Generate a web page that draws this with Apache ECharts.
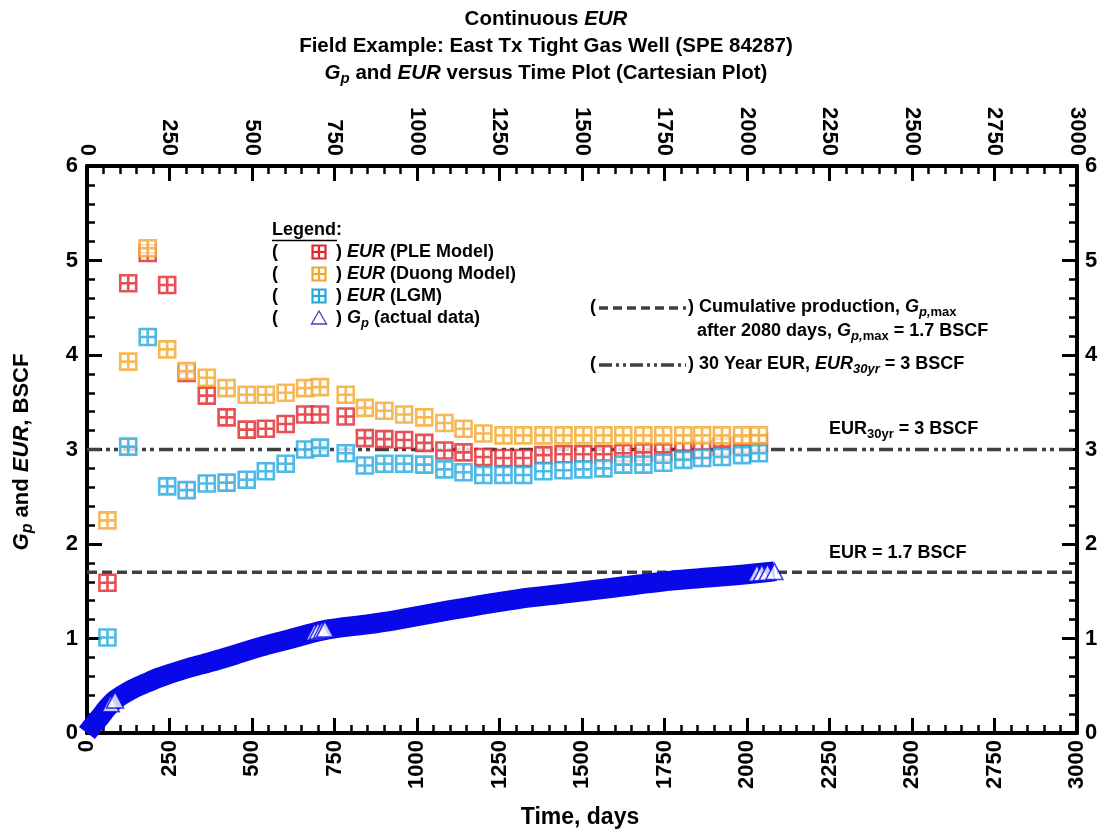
<!DOCTYPE html>
<html>
<head>
<meta charset="utf-8">
<script src="https://cdn.jsdelivr.net/npm/echarts@6/dist/echarts.min.js"></script>
<style>
html,body{margin:0;padding:0;background:#fff;}
#chart{width:1101px;height:834px;}
</style>
</head>
<body>
<div id="chart"></div>
<script>
// ---- data ----
const evalDays = [62, 125, 184, 243, 302, 363, 423, 484, 542, 602, 661, 706, 784, 842, 901, 961, 1022, 1083, 1141, 1201, 1262, 1322, 1383, 1444, 1504, 1565, 1625, 1686, 1746, 1807, 1864, 1924, 1985, 2036];
const eurPLE = [1.59, 4.76, 5.08, 4.74, 3.81, 3.57, 3.34, 3.21, 3.22, 3.27, 3.37, 3.37, 3.35, 3.12, 3.11, 3.10, 3.07, 2.99, 2.97, 2.92, 2.91, 2.91, 2.94, 2.95, 2.95, 2.95, 2.96, 2.97, 2.97, 2.99, 3.00, 3.03, 3.05, 3.07];
const eurDuong = [2.25, 3.93, 5.13, 4.06, 3.83, 3.76, 3.65, 3.58, 3.58, 3.60, 3.65, 3.66, 3.58, 3.44, 3.41, 3.37, 3.34, 3.28, 3.22, 3.17, 3.15, 3.15, 3.15, 3.15, 3.15, 3.15, 3.15, 3.15, 3.15, 3.15, 3.15, 3.15, 3.15, 3.15];
const eurLGM = [1.01, 3.03, 4.19, 2.61, 2.57, 2.64, 2.65, 2.68, 2.77, 2.85, 3.00, 3.02, 2.96, 2.83, 2.85, 2.85, 2.84, 2.79, 2.76, 2.73, 2.73, 2.73, 2.77, 2.78, 2.79, 2.80, 2.84, 2.84, 2.86, 2.89, 2.91, 2.92, 2.94, 2.96];
// Gp (actual data) - dense band read along its centre
const gpDays = [0, 20, 40, 60, 85, 130, 180, 221, 300, 373, 450, 524, 600, 721, 850, 927, 1100, 1311, 1433, 1600, 1765, 1900, 2000, 2083];
const gpValues = [0, 0.09, 0.17, 0.26, 0.35, 0.45, 0.53, 0.59, 0.68, 0.75, 0.83, 0.91, 0.98, 1.09, 1.15, 1.19, 1.30, 1.42, 1.47, 1.54, 1.61, 1.65, 1.68, 1.71];
// individually visible Gp triangles
const gpMarkDays = [72, 85, 690, 700, 712, 721, 2030, 2045, 2062, 2083];
const gpMarkValues = [0.31, 0.35, 1.07, 1.08, 1.09, 1.10, 1.69, 1.695, 1.70, 1.71];
// reference lines
const refXRange = [0, 3000];
const gpMax = 1.7;
const eur30 = 3;
// axes
const xMin = 0, xMax = 3000, xStep = 250;
const yMin = 0, yMax = 6, yStep = 1;

const pair = (xs, ys) => xs.map((x, i) => [x, ys[i]]);

const FONT = "'Liberation Sans', Arial, Helvetica, sans-serif";
const BLUE_GP = '#0808e8';
const RED = '#e1252b';
const ORANGE = '#f2a62a';
const CYAN = '#22a6e0';
const GRAY = '#404040';
const SQ = 'path://M0 0H16V16H0Z M8 0V16 M0 8H16';

function axisCommon() {
  return {
    axisLine: { show: true, onZero: false, lineStyle: { color: '#000', width: 4 } },
    axisTick: { show: true, inside: true, length: 15, lineStyle: { color: '#000', width: 3 } },
    minorTick: { show: true, splitNumber: 5, length: 8, lineStyle: { color: '#000', width: 2.5 } },
    splitLine: { show: false },
    axisLabel: { color: '#000', fontFamily: FONT, fontWeight: 'bold', fontSize: 22, formatter: v => String(v) }
  };
}

const xBottom = Object.assign(axisCommon(), { type: 'value', position: 'bottom', min: xMin, max: xMax, interval: xStep });
xBottom.axisLabel = Object.assign({}, xBottom.axisLabel, { rotate: 90, margin: 7 });
const xTop = Object.assign(axisCommon(), { type: 'value', position: 'top', min: xMin, max: xMax, interval: xStep });
xTop.axisLabel = Object.assign({}, xTop.axisLabel, { rotate: 90, margin: 10 });
const yLeft = Object.assign(axisCommon(), { type: 'value', position: 'left', min: yMin, max: yMax, interval: yStep });
yLeft.axisLabel = Object.assign({}, yLeft.axisLabel, { margin: 9 });
const yRight = Object.assign(axisCommon(), { type: 'value', position: 'right', min: yMin, max: yMax, interval: yStep });
yRight.axisLabel = Object.assign({}, yRight.axisLabel, { margin: 8 });

function txt(x, y, text, rich, extra) {
  return Object.assign({
    type: 'text', x: x, y: y, z: 100,
    style: Object.assign({
      text: text,
      font: 'bold 18px ' + FONT,
      fill: '#000',
      align: 'left',
      verticalAlign: 'middle',
      rich: rich || {}
    }, (extra && extra.style) || {})
  }, (extra && extra.el) || {});
}

function richSet(size) {
  return {
    n: { fontFamily: FONT, fontWeight: 'bold', fontSize: size },
    i: { fontFamily: FONT, fontWeight: 'bold', fontStyle: 'italic', fontSize: size },
    si: { fontFamily: FONT, fontWeight: 'bold', fontStyle: 'italic', fontSize: Math.round(size * 0.72), padding: [Math.round(size * 0.55), 0, 0, 0] },
    sn: { fontFamily: FONT, fontWeight: 'bold', fontSize: Math.round(size * 0.72), padding: [Math.round(size * 0.55), 0, 0, 0] }
  };
}

const R18 = richSet(18);
const R20 = richSet(20.5);

function legendSquare(cx, cy, color) {
  const s = 13, h = s / 2;
  const st = { fill: 'none', stroke: color, lineWidth: 2.2 };
  return {
    type: 'group', z: 100,
    children: [
      { type: 'rect', z: 100, shape: { x: cx - h, y: cy - h, width: s, height: s }, style: { fill: '#fff', stroke: color, lineWidth: 2.2 } },
      { type: 'line', z: 101, shape: { x1: cx, y1: cy - h, x2: cx, y2: cy + h }, style: st },
      { type: 'line', z: 101, shape: { x1: cx - h, y1: cy, x2: cx + h, y2: cy }, style: st }
    ]
  };
}

const legX = 272, legMX = 319, legCX = 336;
const rows = [252, 274, 296, 318];

const graphics = [
  // title
  txt(546, 19, '{n|Continuous }{i|EUR}', R20, { style: { align: 'center' } }),
  txt(546, 46, '{n|Field Example: East Tx Tight Gas Well (SPE 84287)}', R20, { style: { align: 'center' } }),
  txt(546, 73, '{i|G}{si|p}{n| and }{i|EUR}{n| versus Time Plot (Cartesian Plot)}', R20, { style: { align: 'center' } }),
  // axis names
  txt(580, 818, '{n|Time, days}', richSet(23), { style: { align: 'center' } }),
  txt(22, 452, '{i|G}{si|p}{n| and }{i|EUR}{n|, BSCF}', richSet(22), { style: { align: 'center' }, el: { rotation: Math.PI / 2 } }),
  // legend
  txt(legX, 230, '{n|Legend:}', R18),
  { type: 'line', z: 100, shape: { x1: legX, y1: 240.5, x2: legX + 65, y2: 240.5 }, style: { stroke: '#000', lineWidth: 1.5 } },
  txt(legX, rows[0], '{n|(}', R18), txt(legCX, rows[0], '{n|) }{i|EUR}{n| (PLE Model)}', R18),
  txt(legX, rows[1], '{n|(}', R18), txt(legCX, rows[1], '{n|) }{i|EUR}{n| (Duong Model)}', R18),
  txt(legX, rows[2], '{n|(}', R18), txt(legCX, rows[2], '{n|) }{i|EUR}{n| (LGM)}', R18),
  txt(legX, rows[3], '{n|(}', R18), txt(legCX, rows[3], '{n|) }{i|G}{si|p}{n| (actual data)}', R18),
  legendSquare(legMX, rows[0], RED),
  legendSquare(legMX, rows[1], ORANGE),
  legendSquare(legMX, rows[2], CYAN),
  { type: 'polygon', z: 100, shape: { points: [[legMX, rows[3] - 7], [legMX + 7.5, rows[3] + 6], [legMX - 7.5, rows[3] + 6]] }, style: { fill: '#fff', stroke: '#4040b8', lineWidth: 1.3 } },
  // right block
  txt(590, 307, '{n|(}', R18),
  { type: 'line', z: 100, shape: { x1: 599, y1: 308, x2: 686, y2: 308 }, style: { stroke: GRAY, lineWidth: 3.5, lineDash: [9, 5] } },
  txt(688, 307, '{n|) Cumulative production, }{i|G}{si|p,}{sn|max}', R18),
  txt(697, 331, '{n|after 2080 days, }{i|G}{si|p,}{sn|max}{n| = 1.7 BSCF}', R18),
  txt(590, 364, '{n|(}', R18),
  { type: 'line', z: 100, shape: { x1: 599, y1: 365, x2: 686, y2: 365 }, style: { stroke: GRAY, lineWidth: 3.5, lineDash: [13, 4, 3, 4, 3, 4] } },
  txt(688, 364, '{n|) 30 Year EUR, }{i|EUR}{si|30yr}{n| = 3 BSCF}', R18),
  // annotations
  txt(829, 429, '{n|EUR}{sn|30yr}{n| = 3 BSCF}', R18),
  txt(829, 553, '{n|EUR = 1.7 BSCF}', R18)
];

const chart = echarts.init(document.getElementById('chart'), null, { renderer: 'canvas' });
chart.setOption({
  backgroundColor: '#fff',
  animation: false,
  grid: { left: 87, right: 24, top: 166, bottom: 101, containLabel: false },
  xAxis: [xBottom, xTop],
  yAxis: [yLeft, yRight],
  graphic: graphics,
  series: [
    {
      type: 'line', name: 'Gp max', data: refXRange.map(x => [x, gpMax]), symbol: 'none', z: 1,
      lineStyle: { color: GRAY, width: 3.5, type: [10, 5] }, silent: true
    },
    {
      type: 'line', name: 'EUR30', data: refXRange.map(x => [x, eur30]), symbol: 'none', z: 1,
      lineStyle: { color: GRAY, width: 3.5, type: [14, 5, 4, 4, 4, 5] }, silent: true
    },
    {
      type: 'line', name: 'Gp band', data: pair(gpDays, gpValues), symbol: 'none', z: 2, smooth: 0.3,
      lineStyle: { color: BLUE_GP, width: 20, cap: 'butt', join: 'round' }
    },
    {
      type: 'scatter', name: 'Gp', data: pair(gpMarkDays, gpMarkValues), symbol: 'triangle', symbolSize: [17, 16], z: 3,
      itemStyle: { color: '#fff', borderColor: BLUE_GP, borderWidth: 1.5 }
    },
    {
      type: 'scatter', name: 'EUR PLE', data: pair(evalDays, eurPLE), symbol: SQ, symbolSize: 16, z: 4,
      itemStyle: { color: '#fff', borderColor: RED, borderWidth: 2.6 }
    },
    {
      type: 'scatter', name: 'EUR LGM', data: pair(evalDays, eurLGM), symbol: SQ, symbolSize: 16, z: 5,
      itemStyle: { color: '#fff', borderColor: CYAN, borderWidth: 2.6 }
    },
    {
      type: 'scatter', name: 'EUR Duong', data: pair(evalDays, eurDuong), symbol: SQ, symbolSize: 16, z: 6,
      itemStyle: { color: '#fff', borderColor: ORANGE, borderWidth: 2.6 }
    }
  ]
});
</script>
</body>
</html>
